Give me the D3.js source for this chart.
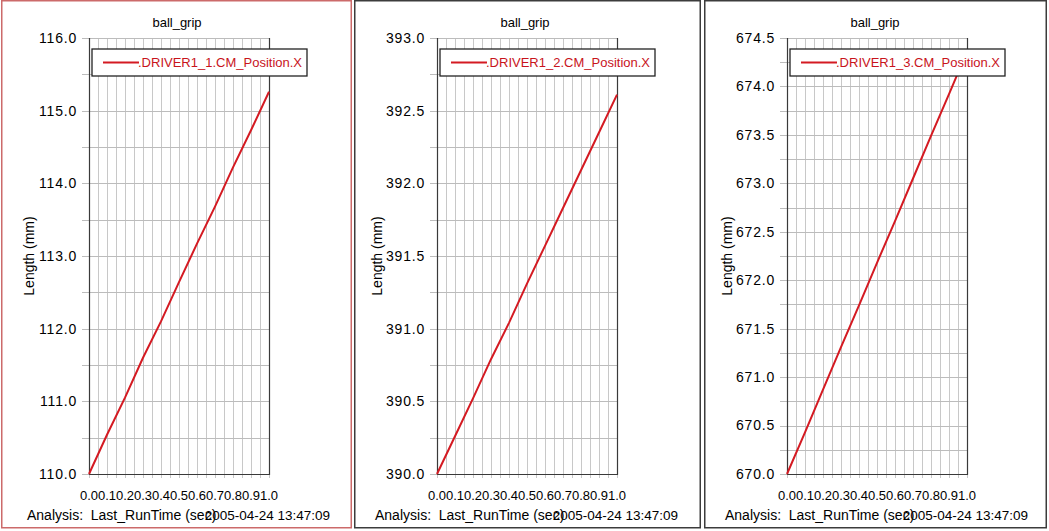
<!doctype html>
<html>
<head>
<meta charset="utf-8">
<script src="https://cdn.jsdelivr.net/npm/d3@7"></script>
<style>
  body { margin: 0; background: #fff; }
  svg { display: block; font-family: "Liberation Sans", Arial, sans-serif; }
</style>
</head>
<body>
<script>
// data
const times = [0, 0.1, 0.2, 0.3, 0.4, 0.5, 0.6, 0.7, 0.8, 0.9, 1.0];
const driver1 = [110.00, 110.54, 111.05, 111.60, 112.10, 112.64, 113.17, 113.68, 114.22, 114.73, 115.26];
const driver2 = [390.00, 390.26, 390.52, 390.79, 391.04, 391.31, 391.57, 391.83, 392.09, 392.35, 392.61];
const driver3 = [670.00, 670.43, 670.87, 671.31, 671.74, 672.18, 672.61, 673.05, 673.49, 673.92, 674.36];
const seriesNames = [".DRIVER1_1.CM_Position.X", ".DRIVER1_2.CM_Position.X", ".DRIVER1_3.CM_Position.X"];
const yDomains = [[110, 116], [390, 393], [670, 674.5]];
const yMajorSteps = [1, 0.5, 0.5];
const title = "ball_grip";
const yLabel = "Length (mm)";
const footLeft = "Analysis:  Last_RunTime (sec)";
const footRight = "2005-04-24 13:47:09";

const W = 1049, H = 531;
const panelX = [1, 354, 704];
const panelW = [351, 347, 343];
const plotLeft = [89, 437, 787];
const plotW = 180, plotTop = 38, plotBottom = 474;

const svg = d3.select("body").append("svg")
    .attr("width", W)
    .attr("height", H);

const allValues = [driver1, driver2, driver3];

allValues.forEach((values, i) => {
  const x0 = plotLeft[i];
  const [y0, y1] = yDomains[i];
  const major = yMajorSteps[i];

  const x = d3.scaleLinear().domain([0, 1]).range([x0, x0 + plotW]);
  const y = d3.scaleLinear().domain([y0, y1]).range([plotBottom, plotTop]);

  const g = svg.append("g");

  // panel frame
  g.append("rect")
      .attr("x", panelX[i] + 0.75)
      .attr("y", 0.75)
      .attr("width", panelW[i] - 1.5)
      .attr("height", H - 4)
      .attr("fill", "#fff")
      .attr("stroke", i === 0 ? "#cc6a6a" : "#3c3c3c")
      .attr("stroke-width", 1.5);

  const xGrid = d3.range(0, 21).map(k => k * 0.05);
  const nY = Math.round((y1 - y0) / (major / 2));
  const yGrid = d3.range(0, nY + 1).map(k => y0 + k * major / 2);

  // vertical grid
  g.append("g")
      .attr("stroke", "#c8c8c8")
      .selectAll("line")
      .data(xGrid)
      .join("line")
        .attr("x1", d => Math.round(x(d)) + 0.5)
        .attr("x2", d => Math.round(x(d)) + 0.5)
        .attr("y1", plotTop)
        .attr("y2", plotBottom + 4);

  // horizontal grid
  g.append("g")
      .attr("stroke", "#bcbcbc")
      .selectAll("line")
      .data(yGrid)
      .join("line")
        .attr("x1", x0 - 7)
        .attr("x2", x0 + plotW)
        .attr("y1", d => Math.round(y(d)) + 0.5)
        .attr("y2", d => Math.round(y(d)) + 0.5);

  // axes frame
  g.append("path")
      .attr("fill", "none")
      .attr("stroke", "#3a3a3a")
      .attr("stroke-width", 1.2)
      .attr("d", `M${x0 + 0.5},${plotTop}V${plotBottom + 0.5}H${x0 + plotW + 0.5}V${plotTop}`);

  // y tick labels
  g.append("g")
      .attr("font-size", 14)
      .attr("letter-spacing", 0.8)
      .attr("text-anchor", "end")
      .selectAll("text")
      .data(yGrid.filter((d, k) => k % 2 === 0))
      .join("text")
        .attr("x", x0 - 12)
        .attr("y", d => y(d))
        .attr("dy", "0.35em")
        .text(d => d.toFixed(1));

  // x tick labels
  g.append("g")
      .attr("font-size", 13)
      .attr("text-anchor", "middle")
      .selectAll("text")
      .data(times)
      .join("text")
        .attr("x", d => x(d))
        .attr("y", 500)
        .text(d => d.toFixed(1));

  // data line
  g.append("path")
      .datum(values)
      .attr("fill", "none")
      .attr("stroke", "#d41a22")
      .attr("stroke-width", 2)
      .attr("d", d3.line().x((d, k) => x(times[k])).y(d => y(d)));

  // legend
  const lg = g.append("g").attr("transform", `translate(${x0 + 3},49)`);
  lg.append("rect")
      .attr("width", 215)
      .attr("height", 27)
      .attr("fill", "#fff")
      .attr("stroke", "#222")
      .attr("stroke-width", 1.3);
  lg.append("line")
      .attr("x1", 11).attr("x2", 47)
      .attr("y1", 13.5).attr("y2", 13.5)
      .attr("stroke", "#d41a22")
      .attr("stroke-width", 2);
  lg.append("text")
      .attr("x", 46)
      .attr("y", 18)
      .attr("font-size", 13)
      .attr("fill", "#c8141c")
      .text(seriesNames[i]);

  // title
  g.append("text")
      .attr("x", x0 + 88)
      .attr("y", 27)
      .attr("font-size", 13)
      .attr("text-anchor", "middle")
      .text(title);

  // y axis label
  g.append("text")
      .attr("transform", `translate(${x0 - 55},${(plotTop + plotBottom) / 2}) rotate(-90)`)
      .attr("font-size", 14)
      .attr("text-anchor", "middle")
      .text(yLabel);

  // footer: the date overlaps the end of the axis name, as in the source
  g.append("text")
      .attr("x", x0 - 62)
      .attr("y", 520)
      .attr("font-size", 14)
      .style("white-space", "pre")
      .text(footLeft);
  g.append("text")
      .attr("x", x0 + 241)
      .attr("y", 520)
      .attr("font-size", 13.5)
      .attr("text-anchor", "end")
      .text(footRight);
});
</script>
</body>
</html>
